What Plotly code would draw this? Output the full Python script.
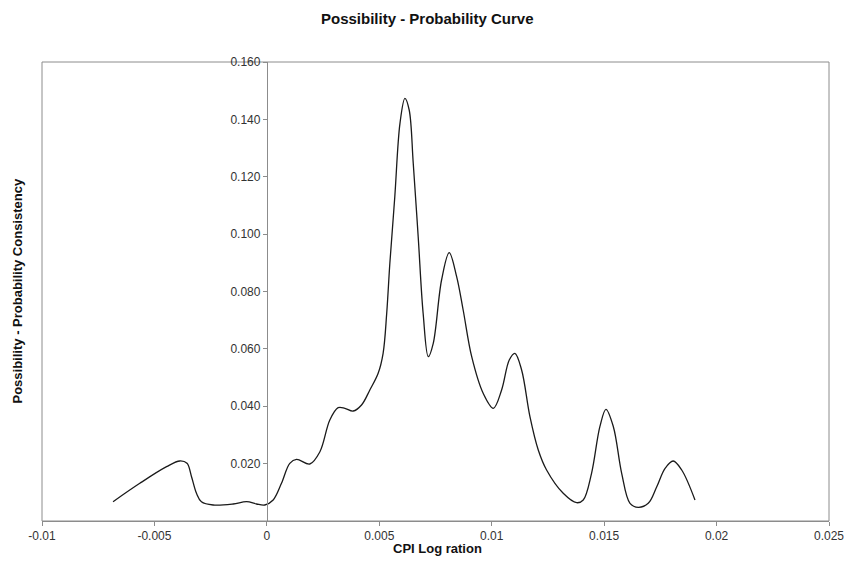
import plotly.graph_objects as go

# Traced points of the possibility-probability consistency curve
cpi_log_ratio = [
    -0.00684, -0.00565, -0.00446, -0.00387, -0.00355, -0.00335, -0.00313, -0.00291,
    -0.00239, -0.00150, -0.00090, -0.00046, -0.00009, 0.00028, 0.00065, 0.00102,
    0.00132, 0.00191, 0.00236, 0.00280, 0.00317, 0.00347, 0.00384, 0.00421,
    0.00458, 0.00495, 0.00517, 0.00533, 0.00547, 0.00569, 0.00592, 0.00614,
    0.00633, 0.00651, 0.00673, 0.00695, 0.00718, 0.00740, 0.00777, 0.00811,
    0.00844, 0.00873, 0.00911, 0.00962, 0.01007, 0.01044, 0.01078, 0.01103,
    0.01133, 0.01170, 0.01207, 0.01244, 0.01318, 0.01378, 0.01407,
    0.01444, 0.01481, 0.01508, 0.01541, 0.01578, 0.01615, 0.01652, 0.01696,
    0.01734, 0.01771, 0.01807, 0.01845, 0.01904,
]
consistency = [
    0.00673, 0.01314, 0.01893, 0.02092, 0.02011, 0.01544, 0.00966, 0.00673,
    0.00558, 0.00593, 0.00673, 0.00593, 0.00558, 0.00732, 0.01314, 0.02011,
    0.02151, 0.01987, 0.02416, 0.03521, 0.03949, 0.03929, 0.03834, 0.04044,
    0.04566, 0.05149, 0.05846, 0.07240, 0.08983, 0.11305, 0.13863, 0.14735,
    0.14327, 0.12469, 0.09910, 0.07240, 0.05727, 0.06194, 0.08401, 0.09353,
    0.08516, 0.07355, 0.05727, 0.04451, 0.03929, 0.04566, 0.05612, 0.05846,
    0.05264, 0.03636, 0.02475, 0.01778, 0.00966, 0.00638, 0.00732,
    0.01663, 0.03287, 0.03894, 0.03287, 0.01663, 0.00617, 0.00478, 0.00617,
    0.01196, 0.01837, 0.02092, 0.01778, 0.00732,
]

x_ticks = [-0.01, -0.005, 0, 0.005, 0.01, 0.015, 0.02, 0.025]
x_tick_labels = ["-0.01", "-0.005", "0", "0.005", "0.01", "0.015", "0.02", "0.025"]
y_ticks = [0.02, 0.04, 0.06, 0.08, 0.10, 0.12, 0.14, 0.16]
y_tick_labels = ["0.020", "0.040", "0.060", "0.080", "0.100", "0.120", "0.140", "0.160"]

FONT = "Liberation Sans, Arial, sans-serif"
AXIS_GREY = "#8c8c8c"
TICK_TEXT = "#333333"

fig = go.Figure()
fig.add_trace(go.Scatter(
    x=cpi_log_ratio, y=consistency, mode="lines",
    line=dict(color="#1a1a1a", width=1.3, shape="spline", smoothing=1.0),
    showlegend=False, hoverinfo="x+y",
))

x_min, x_max = -0.01, 0.025
fig.update_layout(
    width=849, height=568,
    margin=dict(l=42, r=20, t=62, b=47, autoexpand=False),
    paper_bgcolor="white", plot_bgcolor="white",
    font=dict(family=FONT, size=12, color="#222222"),
    xaxis=dict(
        range=[x_min, x_max], tickvals=x_ticks, ticktext=x_tick_labels,
        showgrid=False, zeroline=False, showline=True, linecolor=AXIS_GREY,
        linewidth=1, ticks="outside", ticklen=4, tickcolor=AXIS_GREY,
        tickfont=dict(size=12, color=TICK_TEXT), automargin=False,
    ),
    yaxis=dict(
        range=[0, 0.16], tickvals=y_ticks, ticktext=y_tick_labels,
        showgrid=False, zeroline=False, showline=True, linecolor=AXIS_GREY,
        linewidth=1, ticks="outside", ticklen=4, tickcolor=AXIS_GREY,
        anchor="free", position=(0 - x_min) / (x_max - x_min),
        tickfont=dict(size=12, color=TICK_TEXT), automargin=False,
    ),
    shapes=[dict(type="rect", xref="paper", yref="paper", x0=0, y0=0, x1=1, y1=1,
                 line=dict(color=AXIS_GREY, width=1), layer="below")],
    annotations=[
        dict(text="<b>Possibility - Probability Curve</b>", xref="paper", yref="paper",
             x=0.49, y=1, yshift=44, showarrow=False, xanchor="center", yanchor="middle",
             font=dict(size=15, color="#111111")),
        dict(text="<b>CPI Log ration</b>", xref="paper", yref="paper",
             x=0.502, y=0, yshift=-27, showarrow=False, xanchor="center", yanchor="middle",
             font=dict(size=13, color="#111111")),
        dict(text="<b>Possibility - Probability Consistency</b>", xref="paper", yref="paper",
             x=0, y=0.5, xshift=-25, textangle=-90, showarrow=False,
             xanchor="center", yanchor="middle",
             font=dict(size=13, color="#111111")),
    ],
)

fig.write_html("out.html")
